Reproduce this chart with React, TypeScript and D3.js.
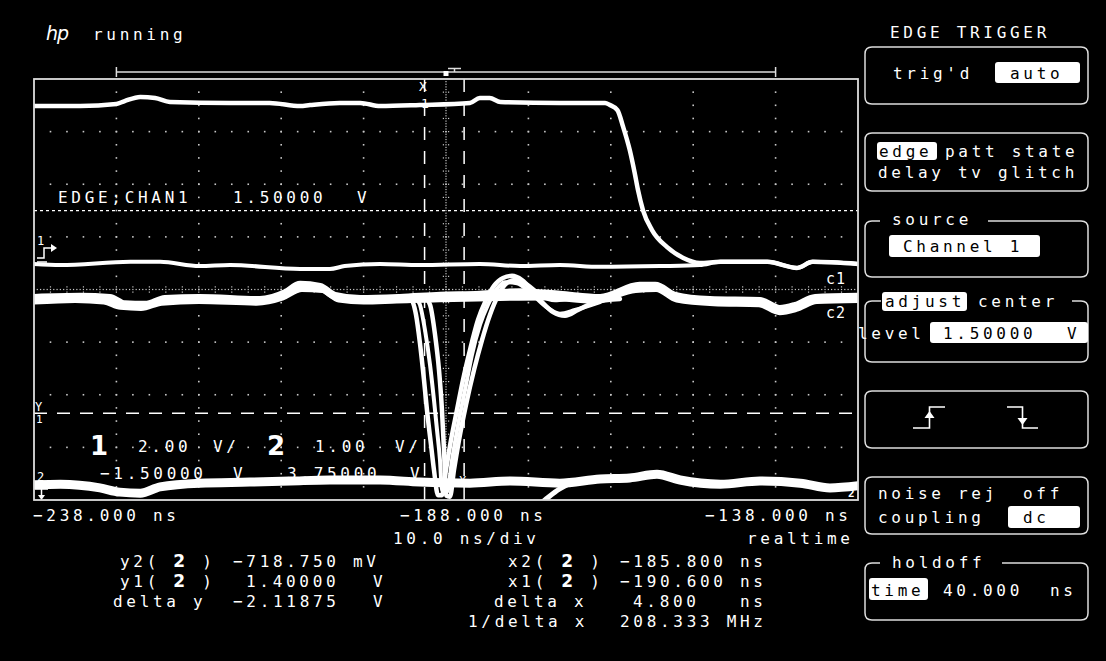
import React, { useEffect } from "react";
import * as d3 from "d3";

// ---------- axes / settings ----------
const timeDomain: [number, number] = [-238, -138]; // ns, 10 ns/div
const ch1Domain: [number, number] = [-9.5, 6.5]; // V, 2 V/div, offset -1.5 V
const ch2Domain: [number, number] = [-0.25, 7.75]; // V, 1 V/div, offset 3.75 V
const timeLabels = ["−238.000 ns", "−188.000 ns", "−138.000 ns"];
const x1Cursor = -190.6;
const x2Cursor = -185.8;
const y1Cursor = 1.4; // ch2
const trigLevel = 1.5; // ch1

// ---------- channel 1 sweeps [t(ns), V] ----------
const ch1FallSweep: [number, number][] = [
  [-238, 5.47], [-232.4, 5.47], [-228.0, 5.55], [-227.0, 5.66], [-225.1, 5.82], [-223.3, 5.78],
  [-221.5, 5.63], [-214.2, 5.59], [-209.4, 5.59], [-205.7, 5.47], [-204.5, 5.51], [-200.9, 5.59],
  [-198.4, 5.59], [-196.0, 5.47], [-191.2, 5.51], [-185.1, 5.59], [-183.9, 5.78], [-182.7, 5.78],
  [-181.4, 5.63], [-174.2, 5.59], [-168.7, 5.59], [-168.1, 5.51], [-167.2, 5.32], [-166.5, 4.68],
  [-165.7, 3.8], [-165.1, 2.93], [-164.7, 2.28], [-164.1, 1.52], [-163.0, 0.76], [-161.2, 0.12],
  [-159.2, -0.3], [-157.2, -0.49], [-154.7, -0.45], [-149.0, -0.45], [-145.4, -0.68], [-143.5, -0.45],
  [-138, -0.53],
];
const ch1LowSweep: [number, number][] = [
  [-238, -0.53], [-234.8, -0.57], [-226.3, -0.45], [-222.7, -0.45], [-217.9, -0.61], [-214.2, -0.57],
  [-205.7, -0.72], [-202.1, -0.72], [-200.3, -0.61], [-196.0, -0.53], [-191.2, -0.57], [-183.9, -0.53],
  [-179.0, -0.61], [-174.2, -0.57], [-169.3, -0.64], [-162.0, -0.61], [-157.2, -0.57], [-154.7, -0.45],
  [-149.0, -0.45], [-145.4, -0.68], [-143.5, -0.45], [-138, -0.53],
];

// ---------- channel 2 sweeps [t(ns), V] ----------
const ch2HighSweep: [number, number][] = [
  [-238, 3.59], [-232.4, 3.61], [-228.8, 3.59], [-227.0, 3.47], [-224.5, 3.46], [-222.1, 3.57],
  [-217.9, 3.59], [-210.6, 3.55], [-207.5, 3.68], [-205.7, 3.84], [-203.3, 3.8], [-201.5, 3.63],
  [-198.4, 3.57], [-193.6, 3.59], [-188.7, 3.63], [-183.9, 3.65], [-179.0, 3.7], [-174.2, 3.65],
  [-169.3, 3.59], [-164.5, 3.82], [-162.6, 3.82], [-160.2, 3.63], [-156.0, 3.55], [-149.9, 3.53],
  [-147.5, 3.38], [-145.6, 3.44], [-143.2, 3.59], [-138, 3.61],
];
const ch2HighSweepB: [number, number][] = [
  [-238, 3.52], [-233.0, 3.55], [-229.5, 3.52], [-227.5, 3.42], [-225.0, 3.4], [-222.5, 3.5],
  [-218.0, 3.53], [-211.0, 3.5], [-207.8, 3.6], [-205.5, 3.76], [-203.0, 3.74], [-201.0, 3.56],
  [-198.0, 3.52], [-194.0, 3.54], [-176.0, 3.6], [-170.0, 3.54], [-165.0, 3.74], [-162.5, 3.76],
  [-160.0, 3.56], [-155.5, 3.49], [-150.0, 3.47], [-147.5, 3.32], [-145.5, 3.38], [-143.0, 3.53],
  [-138, 3.55],
];
const ch2Glitch1: [number, number][] = [
  [-193.58, 3.61], [-192.37, 3.59], [-191.64, 3.27], [-191.16, 2.73], [-190.67, 2.03], [-190.31, 1.46],
  [-189.82, 0.8], [-189.46, 0.32], [-188.97, -0.16], [-188.49, -0.16], [-188.0, 0.32], [-187.39, 0.89],
  [-186.67, 1.46], [-185.94, 2.03], [-185.09, 2.6], [-184.12, 3.17], [-183.14, 3.55], [-182.18, 3.82],
  [-181.08, 3.97], [-179.99, 4.01], [-178.78, 3.93], [-177.56, 3.74], [-176.23, 3.49], [-175.01, 3.32],
  [-173.56, 3.25], [-171.98, 3.36], [-169.92, 3.51], [-166.89, 3.57],
];
const ch2Glitch2: [number, number][] = [
  [-193.58, 3.59], [-190.55, 3.59], [-189.94, 3.46], [-189.33, 2.89], [-188.85, 2.22], [-188.49, 1.46],
  [-188.24, 0.7], [-188.0, -0.16], [-187.52, -0.19], [-187.03, 0.32], [-186.42, 0.89], [-185.57, 1.56],
  [-184.6, 2.22], [-183.63, 2.79], [-182.66, 3.27], [-181.69, 3.63], [-180.72, 3.86], [-179.63, 3.93],
  [-178.17, 3.84], [-176.59, 3.65], [-174.77, 3.55], [-172.34, 3.59], [-169.31, 3.59],
];
const ch2Glitch3: [number, number][] = [
  [-191.76, 3.61], [-191.16, 3.46], [-190.55, 2.98], [-189.94, 2.32], [-189.46, 1.65], [-189.09, 1.08],
  [-188.73, 0.51], [-188.49, -0.06], [-187.88, -0.1], [-187.27, 0.51], [-186.54, 1.18], [-185.69, 1.84],
  [-184.85, 2.51], [-183.87, 3.08], [-182.9, 3.46], [-181.93, 3.74], [-180.84, 3.89], [-179.39, 3.87],
  [-177.81, 3.7], [-175.99, 3.44], [-174.17, 3.29], [-172.34, 3.36], [-169.31, 3.51],
];
const ch2LowSweep: [number, number][] = [
  [-238, 0.04], [-234.8, 0.05], [-230.0, -0.02], [-227.6, -0.1], [-225.1, -0.12], [-222.7, 0.0],
  [-217.9, 0.07], [-211.8, 0.09], [-206.9, 0.11], [-202.1, 0.13], [-196.0, 0.13], [-191.2, 0.09],
  [-185.1, 0.07], [-180.2, 0.11], [-174.2, 0.07], [-169.3, 0.15], [-165.7, 0.17], [-162.4, 0.24],
  [-159.6, 0.13], [-154.7, 0.05], [-149.9, 0.11], [-145.0, 0.07], [-141.4, -0.02], [-138, 0.02],
];
const ch2RiseSweep: [number, number][] = [
  [-177.8, -0.48], [-176.0, -0.25], [-174.2, -0.04], [-172.3, 0.09], [-169.3, 0.13],
];

// ---------- readouts ----------
const readLeft = [
  { label: "y2(", value: "−718.750", unit: "mV", vx: 233 },
  { label: "y1(", value: "1.40000", unit: "V", vx: 246 },
];
const readRight = [
  { label: "x2(", value: "−185.800 ns" },
  { label: "x1(", value: "−190.600 ns" },
];

// ---------- layout ----------
const L = 34, R = 858, T = 79, B = 500;
const FONT = "'DejaVu Sans Mono', monospace";
const FS = 16;
const LS = 3.7;

const x = d3.scaleLinear().domain(timeDomain).range([L, R]);
const y1 = d3.scaleLinear().domain(ch1Domain).range([B, T]);
const y2 = d3.scaleLinear().domain(ch2Domain).range([B, T]);

const line1 = d3.line<[number, number]>().x((d) => x(d[0])).y((d) => y1(d[1])).curve(d3.curveMonotoneX);
const line2 = d3.line<[number, number]>().x((d) => x(d[0])).y((d) => y2(d[1])).curve(d3.curveMonotoneX);

function Txt(props: { x: number; y: number; children: React.ReactNode; fill?: string; size?: number; ls?: number; family?: string; weight?: string | number; style?: string }) {
  return (
    <text
      x={props.x}
      y={props.y}
      fill={props.fill ?? "#fff"}
      fontSize={props.size ?? FS}
      fontFamily={props.family ?? FONT}
      fontWeight={props.weight ?? "normal"}
      fontStyle={props.style ?? "normal"}
      letterSpacing={props.ls ?? LS}
      style={{ whiteSpace: "pre" }}
    >
      {props.children}
    </text>
  );
}

function boxPath(x0: number, y0: number, x1: number, y1b: number, r: number, gapFrom?: number, gapTo?: number) {
  const start = gapTo ?? x0 + r;
  let p = `M${start},${y0} H${x1 - r} Q${x1},${y0} ${x1},${y0 + r} V${y1b - r} Q${x1},${y1b} ${x1 - r},${y1b} H${x0 + r} Q${x0},${y1b} ${x0},${y1b - r} V${y0 + r} Q${x0},${y0} ${x0 + r},${y0}`;
  if (gapFrom !== undefined) p += ` H${gapFrom}`;
  else p += " Z";
  return p;
}

function Bold2() {
  return (
    <tspan fontFamily="'DejaVu Sans', sans-serif" fontWeight="bold" fontSize={17}>
      2
    </tspan>
  );
}

export default function App() {
  useEffect(() => {
    document.body.style.margin = "0";
    document.body.style.background = "#000";
  }, []);

  const vTicks = d3.range(timeDomain[0] + 10, timeDomain[1] - 1, 10);
  const hTicks = d3.range(ch2Domain[0] + 1, ch2Domain[1] - 0.5, 1);
  const centerT = -188;
  const centerV = 3.75;

  const dots: { cx: number; cy: number }[] = [];
  vTicks.forEach((t) => {
    if (Math.abs(t - centerT) < 0.01) return;
    d3.range(ch2Domain[0] + 0.25, ch2Domain[1] - 0.1, 0.25).forEach((v) => dots.push({ cx: x(t), cy: y2(v) }));
  });
  hTicks.forEach((v) => {
    if (Math.abs(v - centerV) < 0.01) return;
    d3.range(timeDomain[0] + 2, timeDomain[1] - 0.5, 2).forEach((t) => dots.push({ cx: x(t), cy: y2(v) }));
  });

  const centerVDots = d3.range(ch2Domain[0] + 0.05, ch2Domain[1], 0.05).map((v) => y2(v));
  const centerVTicks = d3.range(ch2Domain[0] + 0.25, ch2Domain[1], 0.25).map((v) => y2(v));
  const centerHDots = d3.range(timeDomain[0] + 0.4, timeDomain[1], 0.4).map((t) => x(t));
  const centerHTicks = d3.range(timeDomain[0] + 2, timeDomain[1], 2).map((t) => x(t));

  const panelX0 = 865, panelX1 = 1088;

  return (
    <div style={{ position: "absolute", left: 0, top: 0, width: 1106, height: 661, background: "#000" }}>
      <svg width={1106} height={661} style={{ display: "block", background: "#000" }}>
        <rect x={0} y={0} width={1106} height={661} fill="#000" />
        <defs>
          <clipPath id="plotclip">
            <rect x={L} y={T} width={R - L} height={B - T} />
          </clipPath>
        </defs>

        {/* header */}
        <Txt x={46} y={40} size={19} family="'DejaVu Sans', sans-serif" style="italic" ls={-1} weight={300}>
          hp
        </Txt>
        <Txt x={93} y={40}>running</Txt>

        {/* memory bar */}
        <g stroke="#ddd" strokeWidth={1.5} fill="none">
          <line x1={x(-228)} y1={72} x2={x(-148)} y2={72} />
          <line x1={x(-228)} y1={67} x2={x(-228)} y2={77} />
          <line x1={x(-148)} y1={67} x2={x(-148)} y2={77} />
          <line x1={448} y1={68.5} x2={461} y2={68.5} />
          <line x1={454.5} y1={68.5} x2={454.5} y2={72} />
        </g>
        <rect x={x(-188) - 2.5} y={71} width={5} height={5} fill="#fff" />

        {/* graticule */}
        <g fill="#c8c8c8">
          {dots.map((d, i) => (
            <rect key={i} x={d.cx - 0.8} y={d.cy - 0.8} width={1.6} height={1.6} />
          ))}
          {centerVDots.map((cy, i) => (
            <rect key={"cv" + i} x={x(centerT) - 0.6} y={cy - 0.6} width={1.2} height={1.2} />
          ))}
          {centerVTicks.map((cy, i) => (
            <g key={"cvt" + i}>
              <rect x={x(centerT) - 3.2} y={cy - 0.6} width={1.2} height={1.2} />
              <rect x={x(centerT) + 2} y={cy - 0.6} width={1.2} height={1.2} />
            </g>
          ))}
          {centerHDots.map((cx, i) => (
            <rect key={"ch" + i} x={cx - 0.6} y={y2(centerV) - 0.6} width={1.2} height={1.2} />
          ))}
          {centerHTicks.map((cx, i) => (
            <g key={"cht" + i}>
              <rect x={cx - 0.6} y={y2(centerV) - 3.2} width={1.2} height={1.2} />
              <rect x={cx - 0.6} y={y2(centerV) + 2} width={1.2} height={1.2} />
            </g>
          ))}
        </g>

        {/* trigger level & cursors */}
        <g stroke="#fff" fill="none">
          <line x1={L} x2={R} y1={y1(trigLevel)} y2={y1(trigLevel)} strokeWidth={1.3} strokeDasharray="3,3" />
          <line x1={L} x2={R} y1={y2(y1Cursor)} y2={y2(y1Cursor)} strokeWidth={1.5} strokeDasharray="13,10" />
          <line x1={x(x1Cursor)} x2={x(x1Cursor)} y1={T} y2={B} strokeWidth={1.5} strokeDasharray="13,11" />
          <line x1={x(x2Cursor)} x2={x(x2Cursor)} y1={T} y2={B} strokeWidth={1.5} strokeDasharray="13,11" />
        </g>

        {/* in-plot annotations */}
        <Txt x={58} y={203}>EDGE;CHAN1</Txt>
        <Txt x={233} y={203}>1.50000</Txt>
        <Txt x={357} y={203}>V</Txt>

        <Txt x={90} y={455} size={26} family="'DejaVu Sans', sans-serif" weight="bold" ls={0}>1</Txt>
        <Txt x={138} y={452}>2.00</Txt>
        <Txt x={213} y={452}>V/</Txt>
        <Txt x={267} y={455} size={26} family="'DejaVu Sans', sans-serif" weight="bold" ls={0}>2</Txt>
        <Txt x={315} y={452}>1.00</Txt>
        <Txt x={395} y={452}>V/</Txt>
        <Txt x={100} y={479}>−1.50000</Txt>
        <Txt x={233} y={479}>V</Txt>
        <Txt x={287} y={479}>3.75000</Txt>
        <Txt x={410} y={479}>V</Txt>

        {/* traces */}
        <g clipPath="url(#plotclip)" fill="none" stroke="#fff" strokeLinejoin="round" strokeLinecap="round">
          <path d={line1(ch1LowSweep) ?? ""} strokeWidth={4} />
          <path d={line1(ch1FallSweep) ?? ""} strokeWidth={4.5} />
          <path d={line2(ch2LowSweep) ?? ""} strokeWidth={9} />
          <path d={line2(ch2RiseSweep) ?? ""} strokeWidth={5} />
          <path d={line2(ch2HighSweep) ?? ""} strokeWidth={8} />
          <path d={line2(ch2HighSweepB) ?? ""} strokeWidth={6} />
          <path d={line2(ch2Glitch1) ?? ""} strokeWidth={4.5} />
          <path d={line2(ch2Glitch2) ?? ""} strokeWidth={4.5} />
          <path d={line2(ch2Glitch3) ?? ""} strokeWidth={4} />
        </g>

        {/* cursor labels */}
        <Txt x={419} y={91} size={13} ls={0}>X</Txt>
        <Txt x={421} y={108} size={13} ls={0}>1</Txt>
        <Txt x={459} y={485} size={12} ls={0}>X</Txt>
        <Txt x={35} y={411} size={12} ls={0}>Y</Txt>
        <Txt x={36} y={423} size={11} ls={0}>1</Txt>

        {/* channel markers */}
        <Txt x={37} y={245} size={12} ls={0}>1</Txt>
        <g stroke="#fff" strokeWidth={1.5} fill="none">
          <path d="M37,258 H44 V248 H51" />
          <path d="M37,262 H47" />
        </g>
        <polygon points="51,244 57,248 51,252" fill="#fff" />
        <Txt x={37} y={481} size={12} ls={0}>2</Txt>
        <g stroke="#fff" strokeWidth={1.5} fill="none">
          <path d="M35,489 H48 M41.5,489 V496" />
        </g>
        <polygon points="38,495 45,495 41.5,500" fill="#fff" />
        <Txt x={826} y={284} size={15} ls={1}>c1</Txt>
        <Txt x={826} y={318} size={15} ls={1}>c2</Txt>
        <Txt x={848} y={497} size={11} weight="bold" ls={0}>2</Txt>

        {/* plot frame */}
        <rect x={L} y={T} width={R - L} height={B - T} fill="none" stroke="#ddd" strokeWidth={1.8} />

        {/* bottom labels */}
        <Txt x={33} y={521}>{timeLabels[0]}</Txt>
        <Txt x={400} y={521}>{timeLabels[1]}</Txt>
        <Txt x={705} y={521}>{timeLabels[2]}</Txt>
        <Txt x={393} y={544}>10.0 ns/div</Txt>
        <Txt x={747} y={544}>realtime</Txt>

        {readLeft.map((r, i) => (
          <g key={"rl" + i}>
            <Txt x={120} y={567 + i * 20}>
              {r.label} <Bold2 /> )
            </Txt>
            <Txt x={r.vx} y={567 + i * 20}>{r.value}</Txt>
            <Txt x={r.unit === "mV" ? 353 : 373} y={567 + i * 20}>{r.unit}</Txt>
          </g>
        ))}
        <Txt x={113} y={607}>delta y</Txt>
        <Txt x={233} y={607}>−2.11875</Txt>
        <Txt x={373} y={607}>V</Txt>

        {readRight.map((r, i) => (
          <g key={"rr" + i}>
            <Txt x={508} y={567 + i * 20}>
              {r.label} <Bold2 /> )
            </Txt>
            <Txt x={620} y={567 + i * 20}>{r.value}</Txt>
          </g>
        ))}
        <Txt x={494} y={607}>delta x</Txt>
        <Txt x={633} y={607}>4.800</Txt>
        <Txt x={740} y={607}>ns</Txt>
        <Txt x={468} y={627}>1/delta x</Txt>
        <Txt x={620} y={627}>208.333 MHz</Txt>

        {/* right panel */}
        <Txt x={890} y={38}>EDGE TRIGGER</Txt>
        <g stroke="#ddd" strokeWidth={1.5} fill="none">
          <path d={boxPath(panelX0, 47, panelX1, 104, 7)} />
          <path d={boxPath(panelX0, 133, panelX1, 191, 7)} />
          <path d={boxPath(panelX0, 221, panelX1, 277, 7, 880, 988)} />
          <path d={boxPath(panelX0, 301, panelX1, 362, 7, 881, 1072)} />
          <path d={boxPath(panelX0, 391, panelX1, 448, 7)} />
          <path d={boxPath(panelX0, 477, panelX1, 534, 7)} />
          <path d={boxPath(panelX0, 563, panelX1, 620, 7, 880, 1002)} />
        </g>
        <g fill="#fff">
          <rect x={995} y={62} width={85} height={21} rx={3} />
          <rect x={877} y={142} width={60} height={18} rx={3} />
          <rect x={889} y={235} width={151} height={22} rx={3} />
          <rect x={882} y={292} width={85} height={19} rx={3} />
          <rect x={930} y={322} width={158} height={21} rx={3} />
          <rect x={1008} y={506} width={72} height={22} rx={3} />
          <rect x={869} y={578} width={59} height={22} rx={3} />
        </g>
        <Txt x={893} y={79}>trig'd</Txt>
        <Txt x={1010} y={79} fill="#000">auto</Txt>
        <Txt x={879} y={157} fill="#000">edge</Txt>
        <Txt x={945} y={157}>patt state</Txt>
        <Txt x={878} y={178}>delay tv glitch</Txt>
        <Txt x={892} y={225}>source</Txt>
        <Txt x={903} y={252} fill="#000">Channel 1</Txt>
        <Txt x={885} y={307} fill="#000">adjust</Txt>
        <Txt x={978} y={307}>center</Txt>
        <Txt x={858} y={339}>level</Txt>
        <Txt x={943} y={339} fill="#000">1.50000</Txt>
        <Txt x={1067} y={339} fill="#000">V</Txt>
        <g stroke="#fff" strokeWidth={1.6} fill="none">
          <path d="M913,428 H929.5 V407 H945" />
          <path d="M1007,407 H1022.5 V428 H1038" />
        </g>
        <polygon points="924.5,418 929.5,411 934.5,418" fill="#fff" />
        <polygon points="1017.5,418 1022.5,425 1027.5,418" fill="#fff" />
        <Txt x={878} y={499}>noise rej</Txt>
        <Txt x={1023} y={499}>off</Txt>
        <Txt x={878} y={523}>coupling</Txt>
        <Txt x={1023} y={523} fill="#000">dc</Txt>
        <Txt x={892} y={568}>holdoff</Txt>
        <Txt x={871} y={596} fill="#000">time</Txt>
        <Txt x={943} y={596}>40.000</Txt>
        <Txt x={1050} y={596}>ns</Txt>
      </svg>
    </div>
  );
}
